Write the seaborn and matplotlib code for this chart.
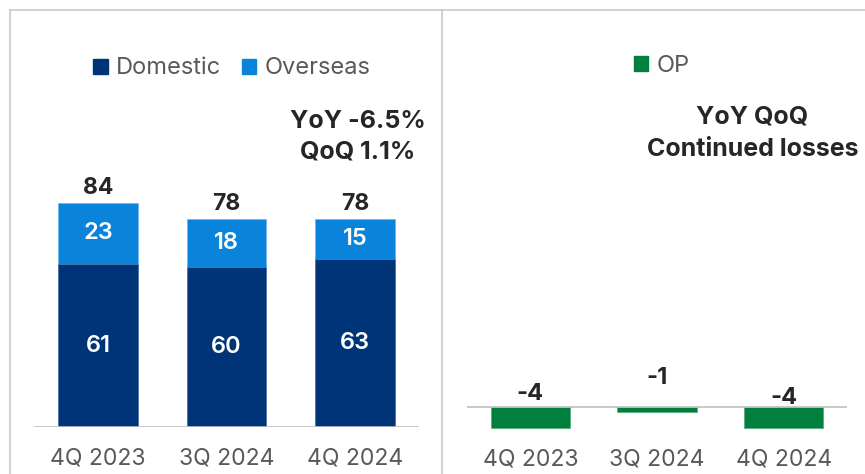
import matplotlib
matplotlib.use("Agg")
import matplotlib.pyplot as plt
from matplotlib.lines import Line2D
from matplotlib.patches import Patch
import seaborn as sns

# Quarterly revenue split and operating profit
quarters = ["4Q 2023", "3Q 2024", "4Q 2024"]
domestic = [61, 60, 63]
overseas = [23, 18, 15]
op = [-4, -1, -4]
revenue_note = ["YoY -6.5%", "QoQ 1.1%"]
op_note = ["YoY QoQ", "Continued losses"]

totals = [d + o for d, o in zip(domestic, overseas)]

C_DOM = "#003478"
C_OVS = "#0A84DB"
C_OP = "#00803C"
C_TXT = "#262626"
C_GRAY = "#595959"
C_LINE = "#C8C8C8"

sns.set_theme(style="white")
plt.rcParams["font.family"] = ["Inter", "DejaVu Sans"]

W, H = 865, 474
fig = plt.figure(figsize=(W / 100, H / 100), dpi=100)


def fx(x):
    return x / W


def fy(y):
    return 1 - y / H


# ---- panel frame lines ----
for xs, ys in [((10, W), (10, 10)), ((10, 10), (10, H)), ((441.5, 441.5), (10, H))]:
    fig.add_artist(Line2D([fx(v) for v in xs], [fy(v) for v in ys],
                          color=C_LINE, lw=1.2, transform=fig.transFigure))

# ---- left panel: revenue ----
ax1 = fig.add_axes([fx(34), fy(427), fx(385), 320.4 / H])
sns.barplot(x=quarters, y=totals, color=C_OVS, saturation=1, width=0.62,
            edgecolor="#6FB3E8", linewidth=0.5, ax=ax1)
sns.barplot(x=quarters, y=domestic, color=C_DOM, saturation=1, width=0.62,
            edgecolor="#5E7FA8", linewidth=0.5, ax=ax1)
ax1.set_ylim(0, 120)
ax1.set_xlim(-0.5, 2.5)

for i, (d, o, t) in enumerate(zip(domestic, overseas, totals)):
    ax1.text(i, d / 2, f"{d}", ha="center", va="center", color="white",
             fontsize=17, fontweight="semibold")
    ax1.text(i, d + o / 2, f"{o}", ha="center", va="center", color="white",
             fontsize=17, fontweight="semibold")
    ax1.annotate(f"{t}", (i, t), xytext=(0, 3), textcoords="offset points",
                 ha="center", va="bottom", color=C_TXT, fontsize=16.5,
                 fontweight="bold")

ax1.axhline(0, color="#BFBFBF", lw=1.2)
sns.despine(ax=ax1, left=True, bottom=True)
ax1.set_yticks([])
ax1.set_xlabel("")
ax1.set_ylabel("")
ax1.tick_params(axis="x", length=0, pad=15, labelsize=16.5, labelcolor=C_GRAY)
ax1.set_facecolor("none")

fig.text(fx(357.5), fy(121), revenue_note[0], ha="center", va="center",
         fontsize=18, fontweight="bold", color=C_TXT)
fig.text(fx(357.5), fy(152), revenue_note[1], ha="center", va="center",
         fontsize=18, fontweight="bold", color=C_TXT)

leg1 = fig.legend(handles=[Patch(color=C_DOM, label="Domestic"),
                           Patch(color=C_OVS, label="Overseas")],
                  loc="center", bbox_to_anchor=(fx(232), fy(68.5)), ncol=2,
                  frameon=False, fontsize=17, handlelength=0.6,
                  handleheight=0.6, handletextpad=0.35, columnspacing=0.9,
                  borderaxespad=0)
for t in leg1.get_texts():
    t.set_color(C_GRAY)

# ---- right panel: operating profit ----
ax2 = fig.add_axes([fx(467), fy(433), fx(380), 236.25 / H])
sns.barplot(x=quarters, y=op, color=C_OP, saturation=1, width=0.625,
            edgecolor="#4FA877", linewidth=0.5, ax=ax2)
ax2.set_ylim(-5, 40)
ax2.set_xlim(-0.5, 2.5)

op_label_lift = [1, 13, -1.5]
for i, v in enumerate(op):
    ax2.annotate(f"{v}", (i, 0), xytext=(0, op_label_lift[i]),
                 textcoords="offset points", ha="center", va="bottom",
                 color=C_TXT, fontsize=17, fontweight="bold")

ax2.axhline(0, color="#BFBFBF", lw=1.2)
sns.despine(ax=ax2, left=True, bottom=True)
ax2.set_yticks([])
ax2.set_xlabel("")
ax2.set_ylabel("")
ax2.tick_params(axis="x", length=0, pad=11, labelsize=16.5, labelcolor=C_GRAY)
ax2.set_facecolor("none")

fig.text(fx(752.5), fy(117), op_note[0], ha="center", va="center",
         fontsize=18, fontweight="bold", color=C_TXT)
fig.text(fx(752.5), fy(149), op_note[1], ha="center", va="center",
         fontsize=18, fontweight="bold", color=C_TXT)

leg2 = fig.legend(handles=[Patch(color=C_OP, label="OP")],
                  loc="center", bbox_to_anchor=(fx(662), fy(66)),
                  frameon=False, fontsize=17, handlelength=0.6,
                  handleheight=0.6, handletextpad=0.35, borderaxespad=0)
for t in leg2.get_texts():
    t.set_color(C_GRAY)

fig.savefig("out.png", dpi=100, facecolor="white")
